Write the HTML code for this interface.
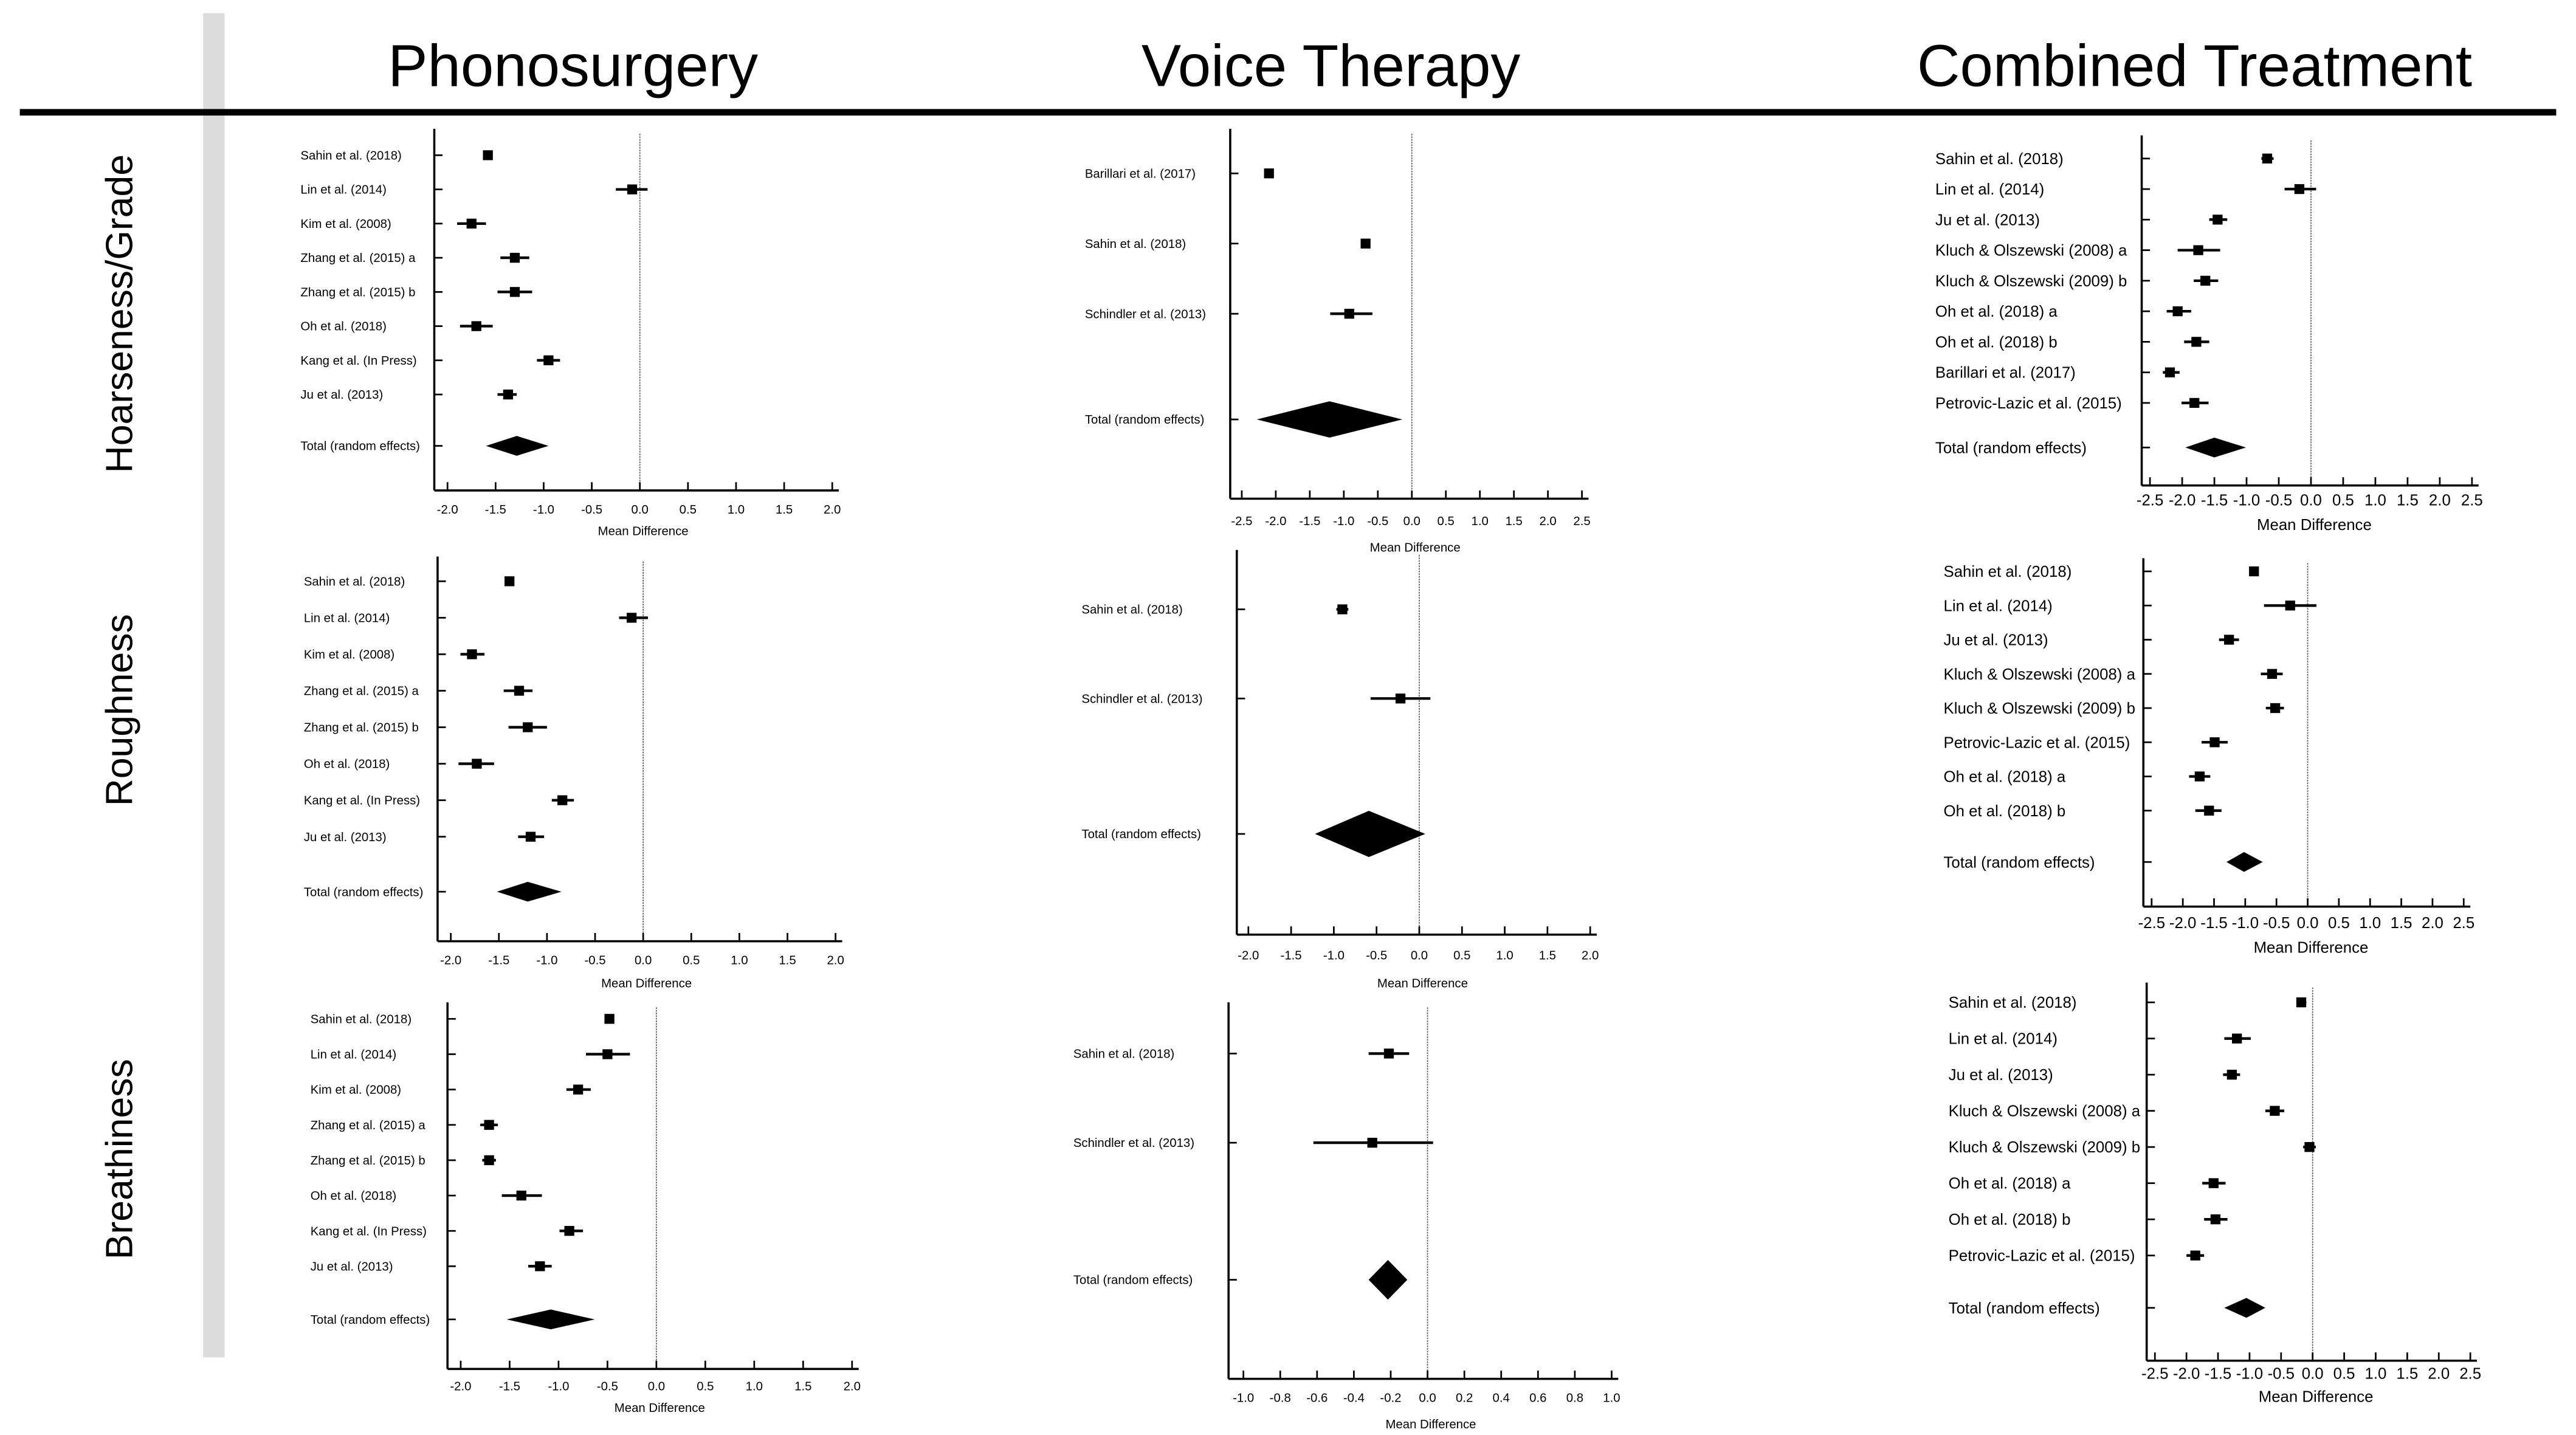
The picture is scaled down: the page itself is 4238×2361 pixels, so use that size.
<!DOCTYPE html>
<html><head><meta charset="utf-8"><style>
html,body{margin:0;padding:0;background:#fff;width:4238px;height:2361px;overflow:hidden}
svg{display:block}
text{font-family:"Liberation Sans Narrow","Liberation Sans",sans-serif;fill:#000}
</style></head><body>
<svg id="fig" width="4238" height="2361" viewBox="0 0 1560 869" preserveAspectRatio="none">
<rect x="123" y="8" width="13" height="814" fill="#dcdcdc"/>
<line x1="12" y1="68" x2="1548" y2="68" stroke="#000" stroke-width="4"/>
<text x="347" y="52" font-size="36" text-anchor="middle" style="font-family:'Liberation Sans',sans-serif">Phonosurgery</text>
<text x="806" y="52" font-size="36" text-anchor="middle" style="font-family:'Liberation Sans',sans-serif">Voice Therapy</text>
<text x="1329" y="52" font-size="36" text-anchor="middle" style="font-family:'Liberation Sans',sans-serif">Combined Treatment</text>
<text transform="translate(80,190) rotate(-90)" font-size="23" text-anchor="middle" style="font-family:'Liberation Sans',sans-serif">Hoarseness/Grade</text>
<text transform="translate(80,430) rotate(-90)" font-size="23" text-anchor="middle" style="font-family:'Liberation Sans',sans-serif">Roughness</text>
<text transform="translate(80,702) rotate(-90)" font-size="23" text-anchor="middle" style="font-family:'Liberation Sans',sans-serif">Breathiness</text>
</svg>
<script>
// ---- data ----
const phonoStudies = ["Sahin et al. (2018)","Lin et al. (2014)","Kim et al. (2008)","Zhang et al. (2015) a","Zhang et al. (2015) b","Oh et al. (2018)","Kang et al. (In Press)","Ju et al. (2013)"];
const vtGradeStudies = ["Barillari et al. (2017)","Sahin et al. (2018)","Schindler et al. (2013)"];
const vtStudies = ["Sahin et al. (2018)","Schindler et al. (2013)"];
const combGradeStudies = ["Sahin et al. (2018)","Lin et al. (2014)","Ju et al. (2013)","Kluch & Olszewski (2008) a","Kluch & Olszewski (2009) b","Oh et al. (2018) a","Oh et al. (2018) b","Barillari et al. (2017)","Petrovic-Lazic et al. (2015)"];
const combRoughStudies = ["Sahin et al. (2018)","Lin et al. (2014)","Ju et al. (2013)","Kluch & Olszewski (2008) a","Kluch & Olszewski (2009) b","Petrovic-Lazic et al. (2015)","Oh et al. (2018) a","Oh et al. (2018) b"];
const combBreathStudies = ["Sahin et al. (2018)","Lin et al. (2014)","Ju et al. (2013)","Kluch & Olszewski (2008) a","Kluch & Olszewski (2009) b","Oh et al. (2018) a","Oh et al. (2018) b","Petrovic-Lazic et al. (2015)"];

const phonoGradeMean = [-1.58,-0.08,-1.75,-1.30,-1.30,-1.70,-0.95,-1.37];
const phonoGradeLo   = [-1.63,-0.25,-1.90,-1.45,-1.48,-1.87,-1.07,-1.48];
const phonoGradeHi   = [-1.53, 0.08,-1.60,-1.15,-1.12,-1.53,-0.83,-1.28];
const phonoGradeTotal = [-1.28,-1.60,-0.95];

const vtGradeMean = [-2.10,-0.68,-0.92];
const vtGradeLo   = [-2.15,-0.73,-1.20];
const vtGradeHi   = [-2.05,-0.63,-0.58];
const vtGradeTotal = [-1.21,-2.28,-0.14];

const combGradeMean = [-0.68,-0.18,-1.45,-1.75,-1.64,-2.07,-1.78,-2.19,-1.81];
const combGradeLo   = [-0.77,-0.41,-1.58,-2.07,-1.82,-2.24,-1.97,-2.30,-2.01];
const combGradeHi   = [-0.58, 0.08,-1.30,-1.41,-1.44,-1.86,-1.58,-2.04,-1.59];
const combGradeTotal = [-1.50,-1.95,-1.01];

const phonoRoughMean = [-1.39,-0.12,-1.78,-1.29,-1.20,-1.73,-0.84,-1.17];
const phonoRoughLo   = [-1.42,-0.25,-1.90,-1.45,-1.40,-1.92,-0.95,-1.30];
const phonoRoughHi   = [-1.37, 0.05,-1.65,-1.15,-1.00,-1.55,-0.72,-1.03];
const phonoRoughTotal = [-1.20,-1.52,-0.85];

const vtRoughMean = [-0.90,-0.22];
const vtRoughLo   = [-0.97,-0.57];
const vtRoughHi   = [-0.83, 0.13];
const vtRoughTotal = [-0.59,-1.22,0.07];

const combRoughMean = [-0.86,-0.28,-1.26,-0.57,-0.52,-1.49,-1.73,-1.58];
const combRoughLo   = [-0.92,-0.70,-1.42,-0.75,-0.67,-1.70,-1.90,-1.80];
const combRoughHi   = [-0.80, 0.14,-1.10,-0.40,-0.38,-1.28,-1.56,-1.38];
const combRoughTotal = [-1.02,-1.30,-0.72];

const phonoBreathMean = [-0.48,-0.50,-0.80,-1.71,-1.71,-1.38,-0.89,-1.19];
const phonoBreathLo   = [-0.50,-0.72,-0.92,-1.80,-1.78,-1.58,-0.99,-1.31];
const phonoBreathHi   = [-0.46,-0.27,-0.67,-1.62,-1.64,-1.17,-0.75,-1.07];
const phonoBreathTotal = [-1.08,-1.53,-0.63];

const vtBreathMean = [-0.21,-0.30];
const vtBreathLo   = [-0.32,-0.62];
const vtBreathHi   = [-0.10, 0.03];
const vtBreathTotal = [-0.215,-0.32,-0.11];

const combBreathMean = [-0.18,-1.20,-1.28,-0.60,-0.05,-1.57,-1.54,-1.86];
const combBreathLo   = [-0.25,-1.40,-1.42,-0.75,-0.15,-1.75,-1.72,-2.00];
const combBreathHi   = [-0.10,-0.98,-1.15,-0.45, 0.05,-1.38,-1.35,-1.72];
const combBreathTotal = [-1.05,-1.40,-0.75];

const ticksPm2 = [-2.0,-1.5,-1.0,-0.5,0.0,0.5,1.0,1.5,2.0];
const ticksPm25 = [-2.5,-2.0,-1.5,-1.0,-0.5,0.0,0.5,1.0,1.5,2.0,2.5];
const ticksPm1 = [-1.0,-0.8,-0.6,-0.4,-0.2,0.0,0.2,0.4,0.6,0.8,1.0];

// ---- layout (not data) ----
const NS = "http://www.w3.org/2000/svg";
const svg = document.getElementById('fig');
function mk(tag, attrs, parent){const e=document.createElementNS(NS,tag);for(const k in attrs)e.setAttribute(k,attrs[k]);(parent||svg).appendChild(e);return e;}

function panel(p){
  const g = mk('g',{});
  
  
  const x = v => p.px0 + (v - p.d0) / (p.d1 - p.d0) * (p.px1 - p.px0);
  const ya = mk('line',{x1:p.ax,y1:p.top,x2:p.ax,y2:p.bot,stroke:'#000','stroke-width':1.3},g);
  
  
  const xa = mk('line',{x1:p.ax,y1:p.bot,x2:p.px1+4,y2:p.bot,stroke:'#000','stroke-width':1.3},g);
  
  
  const zl = mk('line',{x1:x(0),y1:p.top+3,x2:x(0),y2:p.bot,stroke:'#555','stroke-width':0.6,'stroke-dasharray':'1,0.6'},g);
  
  
  p.ticks.forEach(t=>{
    mk('line',{x1:x(t),y1:p.bot,x2:x(t),y2:p.bot-5,stroke:'#000','stroke-width':1},g);
    const tl = mk('text',{x:x(t),y:p.tickY,'font-size':p.tfs,'text-anchor':'middle'},g);
    tl.textContent = t.toFixed(1);
    
    
  });
  const at = mk('text',{x:x(0)+2,y:p.titleY,'font-size':p.tfs,'text-anchor':'middle'},g);
  at.textContent = 'Mean Difference';
  
  
  const yRow = i => p.r0 + i * p.rstep;
  p.studies.forEach((s,i)=>{
    const y = yRow(i);
    mk('line',{x1:p.ax,y1:y,x2:p.ax+5,y2:y,stroke:'#000','stroke-width':1},g);
    const lb = mk('text',{x:p.lx,y:y+p.fs*0.35,'font-size':p.fs},g);
    lb.textContent = s;
    
    
    const ci = mk('line',{x1:x(p.lo[i]),y1:y,x2:x(p.hi[i]),y2:y,stroke:'#000','stroke-width':1.6},g);
    
    
    const sq = mk('rect',{x:x(p.mean[i])-3,y:y-3,width:6,height:6,fill:'#000'},g);
    
    
  });
  const ty = p.totY;
  mk('line',{x1:p.ax,y1:ty,x2:p.ax+5,y2:ty,stroke:'#000','stroke-width':1},g);
  const tl = mk('text',{x:p.lx,y:ty+p.fs*0.35,'font-size':p.fs},g);
  tl.textContent = 'Total (random effects)';
  
  
  const [m,lo,hi] = p.total; const h = p.dh||6;
  const d = mk('polygon',{points:`${x(lo)},${ty} ${x(m)},${ty-h} ${x(hi)},${ty} ${x(m)},${ty+h}`,fill:'#000'},g);
  
  
}

panel({name:'phonosurgery-grade-panel',studies:phonoStudies,mean:phonoGradeMean,lo:phonoGradeLo,hi:phonoGradeHi,total:phonoGradeTotal,
  ax:263,top:78,bot:297,px0:271,px1:504,d0:-2,d1:2,ticks:ticksPm2,r0:94,rstep:20.7,totY:270,lx:182,fs:7.5,tfs:7.5,tickY:311,titleY:324});
panel({name:'voice-therapy-grade-panel',studies:vtGradeStudies,mean:vtGradeMean,lo:vtGradeLo,hi:vtGradeHi,total:vtGradeTotal,
  ax:745,top:78,bot:302,px0:752,px1:958,d0:-2.5,d1:2.5,ticks:ticksPm25,r0:105,rstep:42.5,totY:254,lx:657,fs:7.5,tfs:7.5,tickY:318,titleY:334,dh:11});
panel({name:'combined-grade-panel',studies:combGradeStudies,mean:combGradeMean,lo:combGradeLo,hi:combGradeHi,total:combGradeTotal,
  ax:1297,top:82,bot:294,px0:1302,px1:1497,d0:-2.5,d1:2.5,ticks:ticksPm25,r0:96,rstep:18.5,totY:271,lx:1172,fs:9.5,tfs:9.5,tickY:306,titleY:321});
panel({name:'phonosurgery-roughness-panel',studies:phonoStudies,mean:phonoRoughMean,lo:phonoRoughLo,hi:phonoRoughHi,total:phonoRoughTotal,
  ax:265,top:337,bot:570,px0:273,px1:506,d0:-2,d1:2,ticks:ticksPm2,r0:352,rstep:22.1,totY:540,lx:184,fs:7.5,tfs:7.5,tickY:584,titleY:598});
panel({name:'voice-therapy-roughness-panel',studies:vtStudies,mean:vtRoughMean,lo:vtRoughLo,hi:vtRoughHi,total:vtRoughTotal,
  ax:749,top:333,bot:566,px0:756,px1:963,d0:-2,d1:2,ticks:ticksPm2,r0:369,rstep:54,totY:505,lx:655,fs:7.5,tfs:7.5,tickY:581,titleY:598,dh:14});
panel({name:'combined-roughness-panel',studies:combRoughStudies,mean:combRoughMean,lo:combRoughLo,hi:combRoughHi,total:combRoughTotal,
  ax:1298,top:338,bot:549,px0:1303,px1:1492,d0:-2.5,d1:2.5,ticks:ticksPm25,r0:346,rstep:20.7,totY:522,lx:1177,fs:9.5,tfs:9.5,tickY:562,titleY:577});
panel({name:'phonosurgery-breathiness-panel',studies:phonoStudies,mean:phonoBreathMean,lo:phonoBreathLo,hi:phonoBreathHi,total:phonoBreathTotal,
  ax:271,top:607,bot:829,px0:279,px1:516,d0:-2,d1:2,ticks:ticksPm2,r0:617,rstep:21.4,totY:799,lx:188,fs:7.5,tfs:7.5,tickY:842,titleY:855});
panel({name:'voice-therapy-breathiness-panel',studies:vtStudies,mean:vtBreathMean,lo:vtBreathLo,hi:vtBreathHi,total:vtBreathTotal,
  ax:744,top:607,bot:835,px0:753,px1:976,d0:-1,d1:1,ticks:ticksPm1,r0:638,rstep:54,totY:775,lx:650,fs:7.5,tfs:7.5,tickY:849,titleY:865,dh:12});
panel({name:'combined-breathiness-panel',studies:combBreathStudies,mean:combBreathMean,lo:combBreathLo,hi:combBreathHi,total:combBreathTotal,
  ax:1300,top:595,bot:824,px0:1305,px1:1496,d0:-2.5,d1:2.5,ticks:ticksPm25,r0:607,rstep:21.9,totY:792,lx:1180,fs:9.5,tfs:9.5,tickY:835,titleY:849});
</script>
</body></html>
